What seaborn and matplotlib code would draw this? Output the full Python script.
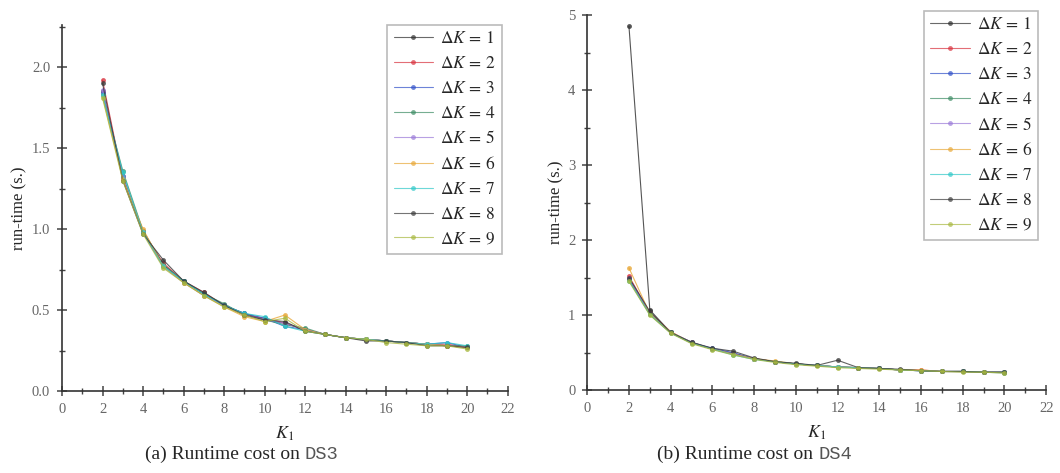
import numpy as np
import pandas as pd
import matplotlib
matplotlib.use("Agg")
import matplotlib.pyplot as plt
from matplotlib.ticker import MultipleLocator
import seaborn as sns

# K_1 values on the x axis
k1 = list(range(2, 21))
delta_k = [1, 2, 3, 4, 5, 6, 7, 8, 9]

# run-time (s.) on DS3, one row per delta K
ds3_dk1 = [1.85, 1.32, 0.99, 0.78, 0.68, 0.60, 0.53, 0.48, 0.44, 0.42, 0.38, 0.35, 0.33, 0.32, 0.31, 0.30, 0.29, 0.28, 0.27]
ds3_dk2 = [1.92, 1.31, 0.98, 0.79, 0.68, 0.61, 0.53, 0.47, 0.45, 0.42, 0.38, 0.35, 0.33, 0.32, 0.31, 0.30, 0.29, 0.29, 0.27]
ds3_dk3 = [1.84, 1.33, 0.98, 0.77, 0.68, 0.60, 0.53, 0.48, 0.45, 0.40, 0.38, 0.35, 0.33, 0.32, 0.31, 0.30, 0.29, 0.30, 0.27]
ds3_dk4 = [1.83, 1.36, 0.99, 0.78, 0.68, 0.60, 0.54, 0.47, 0.44, 0.41, 0.39, 0.35, 0.33, 0.32, 0.31, 0.30, 0.29, 0.28, 0.28]
ds3_dk5 = [1.86, 1.32, 0.98, 0.77, 0.67, 0.59, 0.53, 0.47, 0.44, 0.42, 0.38, 0.35, 0.33, 0.32, 0.31, 0.30, 0.29, 0.28, 0.27]
ds3_dk6 = [1.82, 1.31, 1.00, 0.77, 0.67, 0.59, 0.52, 0.46, 0.43, 0.47, 0.38, 0.35, 0.33, 0.32, 0.31, 0.30, 0.29, 0.28, 0.27]
ds3_dk7 = [1.83, 1.35, 0.98, 0.77, 0.68, 0.60, 0.53, 0.48, 0.46, 0.40, 0.37, 0.35, 0.33, 0.32, 0.31, 0.30, 0.29, 0.30, 0.28]
ds3_dk8 = [1.90, 1.30, 0.97, 0.81, 0.68, 0.61, 0.53, 0.47, 0.44, 0.43, 0.37, 0.35, 0.33, 0.31, 0.31, 0.30, 0.28, 0.28, 0.27]
ds3_dk9 = [1.81, 1.30, 0.97, 0.76, 0.67, 0.59, 0.52, 0.47, 0.43, 0.45, 0.37, 0.35, 0.33, 0.32, 0.30, 0.29, 0.28, 0.28, 0.26]

# run-time (s.) on DS4
ds4_dk1 = [4.85, 1.07, 0.77, 0.64, 0.55, 0.49, 0.42, 0.38, 0.35, 0.33, 0.31, 0.30, 0.29, 0.27, 0.26, 0.25, 0.25, 0.24, 0.24]
ds4_dk2 = [1.52, 1.03, 0.78, 0.63, 0.55, 0.48, 0.42, 0.38, 0.35, 0.33, 0.31, 0.30, 0.29, 0.27, 0.27, 0.25, 0.25, 0.24, 0.24]
ds4_dk3 = [1.48, 1.02, 0.77, 0.63, 0.56, 0.50, 0.42, 0.38, 0.35, 0.33, 0.31, 0.30, 0.29, 0.27, 0.26, 0.25, 0.25, 0.24, 0.24]
ds4_dk4 = [1.47, 1.01, 0.76, 0.63, 0.55, 0.48, 0.42, 0.38, 0.35, 0.33, 0.31, 0.30, 0.29, 0.27, 0.26, 0.25, 0.25, 0.24, 0.23]
ds4_dk5 = [1.49, 1.02, 0.77, 0.64, 0.55, 0.48, 0.42, 0.38, 0.35, 0.33, 0.31, 0.30, 0.29, 0.27, 0.26, 0.25, 0.25, 0.24, 0.24]
ds4_dk6 = [1.63, 1.02, 0.78, 0.63, 0.55, 0.48, 0.42, 0.39, 0.35, 0.33, 0.31, 0.30, 0.29, 0.27, 0.27, 0.25, 0.25, 0.24, 0.24]
ds4_dk7 = [1.46, 1.01, 0.77, 0.63, 0.55, 0.47, 0.41, 0.38, 0.35, 0.33, 0.31, 0.30, 0.29, 0.27, 0.26, 0.25, 0.25, 0.24, 0.24]
ds4_dk8 = [1.50, 1.05, 0.77, 0.64, 0.56, 0.52, 0.43, 0.38, 0.36, 0.33, 0.40, 0.30, 0.29, 0.28, 0.26, 0.25, 0.25, 0.24, 0.24]
ds4_dk9 = [1.45, 1.00, 0.76, 0.62, 0.54, 0.47, 0.41, 0.37, 0.34, 0.32, 0.30, 0.29, 0.28, 0.27, 0.26, 0.25, 0.24, 0.24, 0.23]

ds3 = [ds3_dk1, ds3_dk2, ds3_dk3, ds3_dk4, ds3_dk5, ds3_dk6, ds3_dk7, ds3_dk8, ds3_dk9]
ds4 = [ds4_dk1, ds4_dk2, ds4_dk3, ds4_dk4, ds4_dk5, ds4_dk6, ds4_dk7, ds4_dk8, ds4_dk9]

colors = ["#2b2b2b", "#d8303c", "#2f4fc8", "#3c8c64", "#9a7ad8",
          "#e8a838", "#30c8c8", "#3a3a3a", "#a8b840"]


def long_frame(runtime):
    rows = []
    for dk, vals in zip(delta_k, runtime):
        for k, v in zip(k1, vals):
            rows.append({"K1": k, "runtime": v, "dk": rf"$\Delta K\,=\,{dk}$"})
    return pd.DataFrame(rows)


def draw(ax, runtime, ymax, ymajor, yminor, yfmt, legend_anchor):
    df = long_frame(runtime)
    sns.lineplot(data=df, x="K1", y="runtime", hue="dk", palette=colors,
                 marker="o", markersize=3.5, markeredgewidth=0, linewidth=0.8,
                 alpha=0.8, ax=ax, legend=True)
    ax.set_xlim(0, 22)
    ax.set_ylim(0, ymax)
    ax.xaxis.set_major_locator(MultipleLocator(2))
    ax.xaxis.set_minor_locator(MultipleLocator(1))
    ax.yaxis.set_major_locator(MultipleLocator(ymajor))
    ax.yaxis.set_minor_locator(MultipleLocator(yminor))
    ax.yaxis.set_major_formatter(yfmt)
    ax.tick_params(which="both", bottom=True, left=True, top=False, right=False)
    ax.tick_params(which="major", direction="inout", length=7, width=1.1,
                   colors="#444444", labelsize=10.5, labelcolor="#666666", pad=5)
    ax.tick_params(which="minor", direction="inout", length=4, width=1.0,
                   colors="#444444")
    for side in ["top", "right"]:
        ax.spines[side].set_visible(False)
    for side in ["left", "bottom"]:
        ax.spines[side].set_color("#333333")
        ax.spines[side].set_linewidth(1.2)
    ax.set_xlabel(r"$K_1$", fontsize=13, labelpad=6)
    ax.set_ylabel("run-time (s.)", fontsize=12, labelpad=3)
    ax.grid(False)
    leg = ax.legend(loc="upper right", bbox_to_anchor=legend_anchor,
                    fontsize=12.5, handlelength=2.3, handletextpad=0.4,
                    labelspacing=0.5, borderpad=0.35, borderaxespad=0.2,
                    frameon=True, fancybox=False, edgecolor="#bbbbbb",
                    framealpha=1)
    leg.get_frame().set_linewidth(1.2)
    for line in leg.get_lines():
        line.set_linewidth(0.8)
        line.set_alpha(0.7)


sns.set_theme(style="white")
plt.rcParams["font.family"] = ["Liberation Serif", "DejaVu Serif"]
plt.rcParams["mathtext.fontset"] = "stix"

fig = plt.figure(figsize=(10.6, 4.73), dpi=100)
ax1 = fig.add_axes([0.0585, 0.173, 0.4205, 0.774])
ax2 = fig.add_axes([0.554, 0.175, 0.433, 0.793])

draw(ax1, ds3, 2.26, 0.5, 0.25, "{x:.1f}", (0.995, 1.01))
draw(ax2, ds4, 5.0, 1, 0.5, "{x:.0f}", (0.99, 1.02))

# captions: serif text followed by a monospace dataset name
for x, label, name in [(0.137, "(a) Runtime cost on ", "DS3"),
                       (0.620, "(b) Runtime cost on ", "DS4")]:
    t = fig.text(x, 0.03, label, fontsize=14, ha="left", va="baseline")
    ax1.annotate(name, xy=(1, 0), xycoords=t, va="bottom", ha="left",
                 fontsize=13.5, family="Liberation Mono", color="#555555",
                 annotation_clip=False)

fig.savefig("out.png", dpi=100)
